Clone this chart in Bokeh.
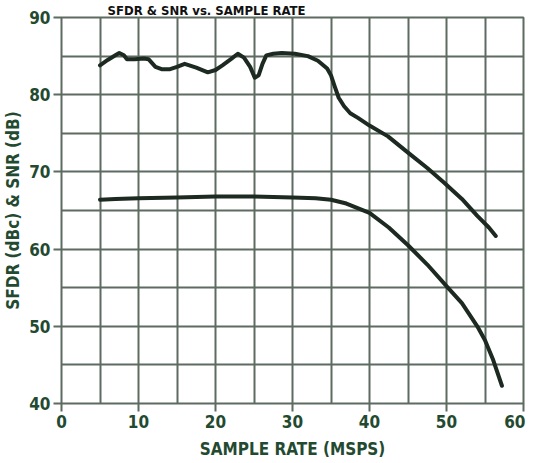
from bokeh.plotting import figure
from bokeh.models import Range1d, SingleIntervalTicker, Title
from bokeh.embed import file_html
from bokeh.resources import INLINE

# ---- data ----
sfdr_x = [5, 6, 7, 7.5, 8.1, 8.5, 9.5, 10.7, 11.3, 12.2, 13, 14.1, 15, 16.0, 17.5, 19.0,
          20.0, 20.9, 22, 22.9, 23.7, 24.5, 25.1, 25.6, 26.1, 26.6, 27.5, 28.6, 30.3, 32,
          33.3, 34.5, 35.0, 35.5, 36.0, 36.7, 37.5, 38.5, 40.0, 42.4, 45.0, 47.5, 49.7,
          52.0, 54.0, 55.5, 56.4]
sfdr_y = [83.8, 84.5, 85.1, 85.4, 85.1, 84.6, 84.6, 84.7, 84.6, 83.6, 83.3, 83.3, 83.6,
          84.0, 83.5, 82.9, 83.2, 83.8, 84.6, 85.3, 84.8, 83.6, 82.2, 82.5, 84.0, 85.1,
          85.3, 85.4, 85.3, 85.0, 84.4, 83.4, 82.5, 81.0, 79.6, 78.5, 77.6, 77.0, 76.0,
          74.6, 72.5, 70.5, 68.6, 66.5, 64.3, 62.8, 61.7]

snr_x = [5, 7, 10, 15, 20, 25, 30, 33, 35, 37, 40, 42.5, 45, 47.5, 50, 52, 54, 55, 56, 57.2]
snr_y = [66.4, 66.5, 66.6, 66.7, 66.8, 66.8, 66.7, 66.6, 66.4, 65.9, 64.7, 62.8, 60.5,
         58.0, 55.2, 53.0, 50.0, 48.2, 45.8, 42.3]

x_ticks = [0, 10, 20, 30, 40, 50, 60]
y_ticks = [40, 50, 60, 70, 80, 90]

title_text = "SFDR & SNR vs. SAMPLE RATE"
x_label = "SAMPLE RATE (MSPS)"
y_label = "SFDR (dBc) & SNR (dB)"

# ---- styles ----
TXT = "#234a30"
GRID = "#5d6b60"
CURVE = "#1d2a21"
FONT = "DejaVu Sans Condensed, sans-serif"

p = figure(width=525, height=461, output_backend="svg", toolbar_location=None,
           x_range=Range1d(0, 60), y_range=Range1d(40, 90),
           min_border_left=54, min_border_right=2, min_border_top=0, min_border_bottom=44)
p.background_fill_color = "white"
p.border_fill_color = "white"
p.outline_line_color = GRID
p.outline_line_width = 2

for g in (p.xgrid[0], p.ygrid[0]):
    g.ticker = SingleIntervalTicker(interval=5)
    g.grid_line_color = GRID
    g.grid_line_width = 2

p.xaxis.ticker = x_ticks
p.yaxis.ticker = y_ticks
for ax in (p.xaxis[0], p.yaxis[0]):
    ax.axis_line_color = None
    ax.major_tick_line_color = GRID
    ax.major_tick_line_width = 2
    ax.major_tick_out = 8
    ax.major_tick_in = 0
    ax.minor_tick_line_color = None
    ax.major_label_text_font = FONT
    ax.major_label_text_font_style = "bold"
    ax.major_label_text_font_size = "17px"
    ax.major_label_text_color = TXT
    ax.major_label_standoff = 3
    ax.major_label_text_line_height = 1.0
    ax.axis_label_text_font = FONT
    ax.axis_label_text_font_style = "bold"
    ax.axis_label_text_font_size = "17px"
    ax.axis_label_text_color = TXT
    ax.axis_label_text_line_height = 1.0

p.xaxis.axis_label = x_label
p.xaxis.axis_label_standoff = 8
p.yaxis.axis_label = y_label
p.yaxis.axis_label_standoff = 3

p.line(sfdr_x, sfdr_y, line_color=CURVE, line_width=4, line_join="round", line_cap="round")
p.line(snr_x, snr_y, line_color=CURVE, line_width=4, line_join="round", line_cap="round")

title = Title(text=title_text, align="left", offset=46, standoff=0,
              text_font=FONT, text_font_style="bold", text_font_size="13px",
              text_color="#111111", text_line_height=1.0)
p.add_layout(title, "above")

open("out.html", "w").write(file_html(p, INLINE))
